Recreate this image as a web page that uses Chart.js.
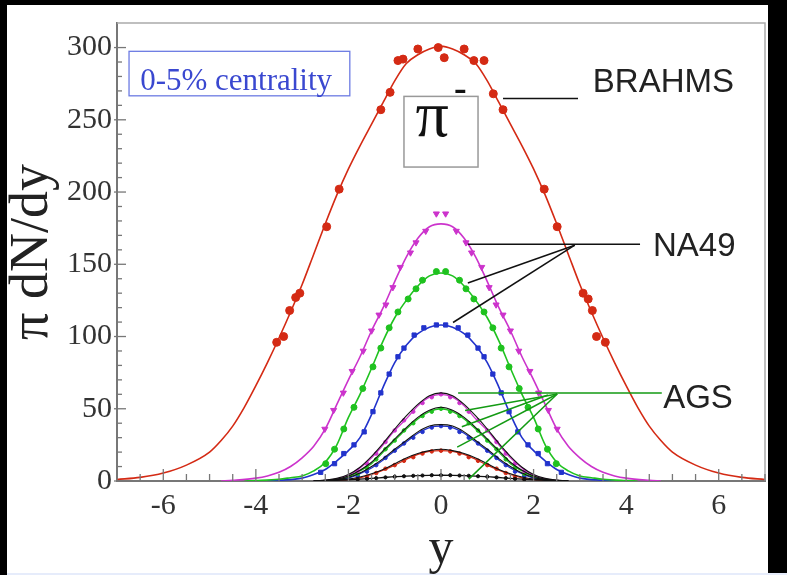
<!DOCTYPE html>
<html><head><meta charset="utf-8">
<script src="https://cdn.jsdelivr.net/npm/chart.js@4/dist/chart.umd.min.js"></script>
<style>html,body{margin:0;padding:0;background:#000;}canvas{display:block;}</style>
</head><body>
<canvas id="c" width="787" height="575"></canvas>
<script>
// ---------- data (rapidity y, pi- dN/dy) ----------
const brahmsCurveX = [-7,-6.5,-6,-5.5,-5,-4.75,-4.5,-4.25,-4,-3.75,-3.5,-3.25,-3,-2.75,-2.5,-2.25,-2,-1.75,-1.5,-1.25,-1,-0.75,-0.5,-0.25,0,0.25,0.5,0.75,1,1.25,1.5,1.75,2,2.25,2.5,2.75,3,3.25,3.5,3.75,4,4.25,4.5,4.75,5,5.5,6,6.5,7];
const brahmsCurve  = [1,2.5,5.5,11,20,28,38,51,66,82,99,117,136,157,178,198,216,232,247,262,277,289,295,299,301,299,295,289,277,262,247,232,216,198,178,157,136,117,99,82,66,51,38,28,20,11,5.5,2.5,1];
const brahmsPtsX = [-3.55,-3.4,-3.27,-3.14,-3.05,-2.47,-2.2,-1.3,-1.1,-0.93,-0.82,-0.5,-0.06,0.07,0.5,0.71,0.93,1.13,1.34,2.23,2.51,3.07,3.18,3.27,3.36,3.55];
const brahmsPts  = [96,100,118,127,130,176,202,257,269,291,292,299,300,293,299,291,291,268,257,202,176,130,126,118,100,96];

const na49aCurveX = [-4.75,-4.5,-4,-3.75,-3.5,-3.25,-3,-2.75,-2.5,-2.25,-2,-1.75,-1.5,-1.25,-1,-0.75,-0.5,-0.25,0,0.25,0.5,0.75,1,1.25,1.5,1.75,2,2.25,2.5,2.75,3,3.25,3.5,3.75,4,4.5,4.75];
const na49aCurve  = [0,0.5,2,3.5,6,10,16,24,36,53,70,86,104,120,138,155,168,176,178,176,168,155,138,120,104,86,70,53,36,24,16,10,6,3.5,2,0.5,0];
const na49aPtsX = [-2.51,-2.32,-2.11,-1.92,-1.68,-1.5,-1.34,-1.19,-1.04,-0.88,-0.66,-0.54,-0.33,-0.1,0.1,0.33,0.54,0.66,0.88,1.04,1.19,1.34,1.5,1.68,1.92,2.11,2.32,2.51];
const na49aPts  = [36,49,61,76,90,104,115,122,134,148,158,165,173,185,185,173,165,158,148,134,122,115,104,90,76,61,49,36];

const na49bCurveX = [-4.25,-4,-3.5,-3.25,-3,-2.75,-2.5,-2.25,-2,-1.75,-1.5,-1.25,-1,-0.75,-0.5,-0.25,0,0.25,0.5,0.75,1,1.25,1.5,1.75,2,2.25,2.5,2.75,3,3.25,3.5,4,4.25];
const na49bCurve  = [0,0.3,1.2,2.3,3.5,7,13,25,44,60,78,97,113,125,135,142,144,142,135,125,113,97,78,60,44,25,13,7,3.5,2.3,1.2,0.3,0];
const na49bPtsX = [-2.49,-2.3,-2.1,-1.88,-1.69,-1.47,-1.3,-1.12,-0.93,-0.71,-0.54,-0.4,-0.1,0.1,0.4,0.54,0.71,0.93,1.12,1.3,1.47,1.69,1.88,2.1,2.3,2.49];
const na49bPts  = [12,22,36,51,64,79,92,106,117,126,133,139,145,145,139,133,126,117,106,92,79,64,51,36,22,12];

const na49cCurveX = [-3.75,-3.5,-3,-2.75,-2.5,-2.25,-2,-1.75,-1.5,-1.25,-1,-0.75,-0.5,-0.25,0,0.25,0.5,0.75,1,1.25,1.5,1.75,2,2.25,2.5,2.75,3,3.5,3.75];
const na49cCurve  = [0,0.5,2,4.5,8,14,21,30,46,65,82,94,102,106.5,108,106.5,102,94,82,65,46,30,21,14,8,4.5,2,0.5,0];
const na49cPtsX = [-2.6,-2.3,-2.1,-1.88,-1.66,-1.47,-1.3,-1.12,-0.93,-0.8,-0.58,-0.37,-0.1,0.1,0.37,0.58,0.8,0.93,1.12,1.3,1.47,1.66,1.88,2.1,2.3,2.6];
const na49cPts  = [6,12,19,25,34,48,61,74,86,92,101,106,108,108,106,101,92,86,74,61,48,34,25,19,12,6];

const agsCurveX = [-2.75,-2.5,-2.25,-2,-1.75,-1.5,-1.25,-1,-0.75,-0.5,-0.25,0,0.25,0.5,0.75,1,1.25,1.5,1.75,2,2.25,2.5,2.75];
const ags1Curve = [0,0.5,1.5,4,9,16,25,35,43,52,58,60,58,52,43,35,25,16,9,4,1.5,0.5,0];
const ags2Curve = [0,0.3,1,3,7,12,20,28,36,43,48,50,48,43,36,28,20,12,7,3,1,0.3,0];
const ags3Curve = [0,0.2,0.8,2,5,9,14.5,21,27,33,37,38,37,33,27,21,14.5,9,5,2,0.8,0.2,0];
const ags4Curve = [0,0.2,0.5,1,2.2,4.5,7.5,11,15,18.5,20.5,21,20.5,18.5,15,11,7.5,4.5,2.2,1,0.5,0.2,0];
const ags5Curve = [0,0.2,0.5,0.8,1.3,1.8,2.4,3,3.4,3.7,3.9,4,3.9,3.7,3.4,3,2.4,1.8,1.3,0.8,0.5,0.2,0];
const ags1Fit = [0,0.6,1.8,4.5,9.5,17,26,36,45,53,59,61,59,53,45,36,26,17,9.5,4.5,1.8,0.6,0];
const ags2Fit = [0,0.4,1.2,3.4,7.5,13,21,29,37,44,49,51,49,44,37,29,21,13,7.5,3.4,1.2,0.4,0];
const ags3Fit = [0,0.3,1,2.4,5.5,10,15.5,22,28,34,38,39,38,34,28,22,15.5,10,5.5,2.4,1,0.3,0];
const ags4Fit = [0,0.3,0.7,1.3,2.8,5,8,12,16,19,21,22,21,19,16,12,8,5,2.8,1.3,0.7,0.3,0];

const agsPtsX = [-1.8,-1.6,-1.4,-1.2,-1.0,-0.8,-0.6,-0.4,-0.2,0,0.2,0.4,0.6,0.8,1.0,1.2,1.4,1.6,1.8];
const ags1Pts = [7,12,19,27,35,42,48,54,58,60,58,54,48,42,35,27,19,12,7];
const ags2Pts = [5,9,15,22,28,35,40,45,48,50,48,45,40,35,28,22,15,9,5];
const ags3Pts = [3.5,6.5,11,16,21,26,30,34,37,38,37,34,30,26,21,16,11,6.5,3.5];
const ags4Pts = [1.5,3,5.5,8.5,11,14,16.5,19,20.5,21,20.5,19,16.5,14,11,8.5,5.5,3,1.5];
const ags5Pts = [1,1.5,2,2.5,3,3.3,3.6,3.8,4,4,4,3.8,3.6,3.3,3,2.5,2,1.5,1];

const xTickLabels = [-6,-4,-2,0,2,4,6];
const yTickLabels = [0,50,100,150,200,250,300];

// ---------- helpers ----------
const pairs = (xs, ys) => xs.map((x, i) => ({x, y: ys[i]}));
const RED = '#d42a14', MAG = '#cc33cc', GRN = '#1fc21f', BLU = '#2233cc', BLK = '#111';

function curve(xs, ys, color, w) {
  return {data: pairs(xs, ys), borderColor: color, borderWidth: w || 1.6, pointRadius: 0,
          cubicInterpolationMode: 'monotone', fill: false};
}
function marks(xs, ys, color, style, r, rot) {
  return {data: pairs(xs, ys), showLine: false, pointRadius: r, pointStyle: style,
          pointRotation: rot || 0, backgroundColor: color, borderColor: color, borderWidth: 1};
}

const datasets = [
  marks(agsPtsX, ags5Pts, BLK, 'circle', 1.6),
  curve(agsCurveX, ags5Curve, BLK, 1.4),
  curve(agsCurveX, ags1Fit, BLK, 1.1),
  curve(agsCurveX, ags2Fit, BLK, 1.1),
  curve(agsCurveX, ags3Fit, BLK, 1.1),
  curve(agsCurveX, ags4Fit, BLK, 1.1),
  marks(agsPtsX, ags1Pts, MAG, 'circle', 1.8),
  marks(agsPtsX, ags2Pts, GRN, 'circle', 1.8),
  marks(agsPtsX, ags3Pts, BLU, 'circle', 1.8),
  marks(agsPtsX, ags4Pts, RED, 'circle', 1.8),
  curve(agsCurveX, ags1Curve, MAG, 1.3),
  curve(agsCurveX, ags2Curve, GRN, 1.3),
  curve(agsCurveX, ags3Curve, BLU, 1.3),
  curve(agsCurveX, ags4Curve, RED, 1.3),
  marks(na49aPtsX, na49aPts, MAG, 'triangle', 3.5, 180),
  marks(na49bPtsX, na49bPts, GRN, 'circle', 3),
  marks(na49cPtsX, na49cPts, BLU, 'rect', 3),
  curve(na49aCurveX, na49aCurve, MAG),
  curve(na49bCurveX, na49bCurve, GRN),
  curve(na49cCurveX, na49cCurve, BLU),
  marks(brahmsPtsX, brahmsPts, RED, 'circle', 4),
  curve(brahmsCurveX, brahmsCurve, RED),
];

// ---------- plugins ----------
const bgPlugin = {
  id: 'bg',
  beforeDraw(chart) {
    const c = chart.ctx;
    c.save();
    c.fillStyle = '#000'; c.fillRect(0, 0, chart.width, chart.height);
    c.fillStyle = '#fff'; c.fillRect(7, 5, 761, 568);
    c.fillStyle = '#e6ecfb'; c.fillRect(7, 573, 780, 2);
    c.restore();
  }
};

const frameTicks = {
  id: 'frameTicks',
  afterDraw(chart) {
    const c = chart.ctx, a = chart.chartArea;
    const xs = chart.scales.x, ys = chart.scales.y;
    c.save();
    c.strokeStyle = '#aaa'; c.lineWidth = 1.5;
    c.beginPath(); c.moveTo(a.left, a.top); c.lineTo(a.right, a.top); c.lineTo(a.right, a.bottom); c.stroke();
    c.strokeStyle = '#777'; c.lineWidth = 1.3;
    xs.ticks.forEach(t => {
      const major = Math.abs(t.value % 2) < 1e-9;
      const px = xs.getPixelForValue(t.value);
      c.beginPath(); c.moveTo(px, a.bottom); c.lineTo(px, a.bottom - (major ? 12 : 7)); c.stroke();
    });
    ys.ticks.forEach(t => {
      if (Math.abs(t.value % 10) > 1e-9) return;
      const major = t.value % 50 === 0;
      const py = ys.getPixelForValue(t.value);
      c.beginPath(); c.moveTo(a.left - (major ? 3 : 0), py); c.lineTo(a.left + (major ? 9 : 5), py); c.stroke();
    });
    c.restore();
  }
};

const notes = {
  id: 'notes',
  afterDraw(chart) {
    const c = chart.ctx, X = v => chart.scales.x.getPixelForValue(v), Y = v => chart.scales.y.getPixelForValue(v);
    const line = (x1, y1, x2, y2, col) => {
      c.strokeStyle = col; c.lineWidth = 1.5;
      c.beginPath(); c.moveTo(X(x1), Y(y1)); c.lineTo(X(x2), Y(y2)); c.stroke();
    };
    const text = (s, x, y, font, col) => {
      c.font = font; c.fillStyle = col; c.textAlign = 'left'; c.textBaseline = 'alphabetic';
      c.fillText(s, X(x), Y(y));
    };
    c.save();
    // centrality box
    c.strokeStyle = '#6c7be3'; c.lineWidth = 1.3;
    c.strokeRect(X(-6.74), Y(297.4), X(-1.97) - X(-6.74), Y(266.6) - Y(297.4));
    text('0-5% centrality', -6.5, 270.5, '31px "Liberation Serif"', '#3a48d0');
    // pi- box
    c.strokeStyle = '#999'; c.lineWidth = 1.5;
    c.strokeRect(X(-0.8), Y(266.2), X(0.8) - X(-0.8), Y(217.3) - Y(266.2));
    text('π', -0.55, 239, '66px "Liberation Serif"', '#111');
    text('-', 0.28, 264, 'bold 38px "Liberation Serif"', '#111');
    // BRAHMS
    line(1.34, 264.8, 2.96, 264.8, '#111');
    text('BRAHMS', 3.28, 269.5, '33px "Liberation Sans"', '#222');
    // NA49
    line(0.58, 163.8, 4.3, 163.8, '#111');
    line(2.89, 163.2, 0.58, 137.1, '#111');
    line(2.89, 163.2, 0.26, 109.7, '#111');
    text('NA49', 4.58, 155.8, '33px "Liberation Sans"', '#222');
    // AGS
    const G = '#139a13';
    line(0.37, 60.9, 4.77, 60.9, G);
    line(2.51, 60.2, 0.52, 48.8, G);
    line(2.31, 59.5, 0.45, 37.5, G);
    line(2.51, 60.2, 0.35, 23.4, G);
    line(2.51, 60.2, 0.6, 1.3, G);
    text('AGS', 4.8, 50.2, '33px "Liberation Sans"', '#222');
    c.restore();
  }
};

const tickFont = {family: 'Liberation Serif', size: 30};
new Chart(document.getElementById('c'), {
  type: 'line',
  data: {datasets},
  plugins: [bgPlugin, frameTicks, notes],
  options: {
    responsive: false, animation: false, devicePixelRatio: 1,
    layout: {padding: {left: 0, right: 22, top: 7, bottom: 0}},
    plugins: {legend: {display: false}, tooltip: {enabled: false}},
    scales: {
      x: {
        type: 'linear', min: -7, max: 7,
        afterFit(s) { s.height = 94; },
        ticks: {stepSize: 0.5, autoSkip: false, maxRotation: 0, minRotation: 0, padding: 7,
                font: tickFont, color: '#333',
                callback: v => xTickLabels.includes(v) ? String(v) : ''},
        grid: {display: false, drawTicks: false},
        border: {display: true, color: '#777', width: 2},
        title: {display: true, text: 'y', color: '#222',
                font: {family: 'Liberation Serif', size: 50, lineHeight: 1.0}, padding: {top: 0, bottom: 0}}
      },
      y: {
        type: 'linear', min: 0, max: 317,
        afterFit(s) { s.width = 117; },
        ticks: {stepSize: 10, autoSkip: false, padding: 5, font: tickFont, color: '#333',
                callback: v => yTickLabels.includes(v) ? String(v) : ''},
        grid: {display: false, drawTicks: false},
        border: {display: true, color: '#777', width: 2},
        title: {display: true, text: 'π dN/dy', color: '#222',
                font: {family: 'Liberation Serif', size: 54}, padding: {top: 0, bottom: 0}}
      }
    }
  }
});
</script>
</body></html>
